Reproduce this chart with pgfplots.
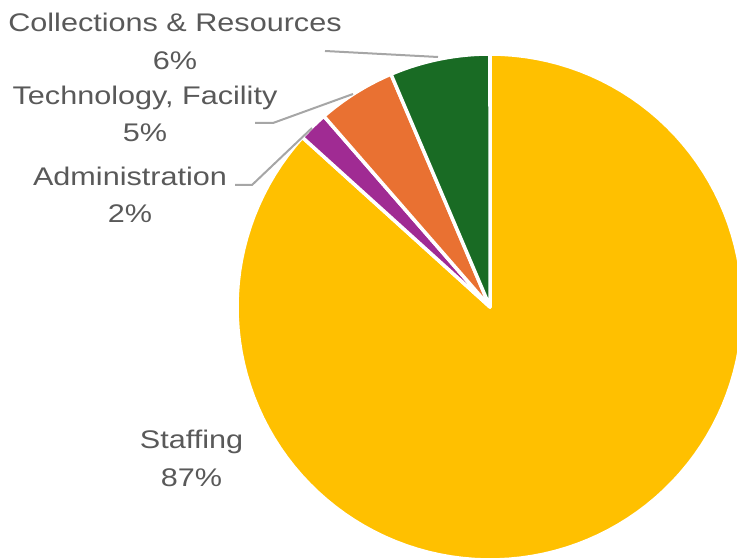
\documentclass[border=0pt]{standalone}
\usepackage{fontspec}
\usepackage{pgfplots}
\usepackage{pgfplotstable}
\pgfplotsset{compat=1.18}
\newfontfamily\lblfont[FakeStretch=1.2]{Liberation Sans}

\definecolor{staffcol}{HTML}{FFC000}
\definecolor{admincol}{HTML}{A02B93}
\definecolor{techcol}{HTML}{E97132}
\definecolor{collcol}{HTML}{196B24}
\definecolor{labelgray}{HTML}{595959}
\definecolor{leadergray}{HTML}{A6A6A6}

% share of the budget, in percent, clockwise from the top
\pgfplotstableread{
label value
Staffing 86.7
Administration 1.9
Technology 5.0
Collections 6.4
}\piedata

\begin{document}
\begin{tikzpicture}
\pgfplotstablegetelem{0}{value}\of\piedata \pgfmathsetmacro\vA{\pgfplotsretval}
\pgfplotstablegetelem{1}{value}\of\piedata \pgfmathsetmacro\vB{\pgfplotsretval}
\pgfplotstablegetelem{2}{value}\of\piedata \pgfmathsetmacro\vC{\pgfplotsretval}
\pgfmathsetmacro\aA{90}
\pgfmathsetmacro\aB{\aA-3.6*\vA}
\pgfmathsetmacro\aC{\aB-3.6*\vB}
\pgfmathsetmacro\aD{\aC-3.6*\vC}
\pgfmathsetmacro\aE{-270}
\tikzset{
  lbl/.style={anchor=base, text=labelgray, font=\lblfont\fontsize{25.5}{30}\selectfont, inner sep=0pt},
  lead/.style={draw=leadergray, line width=2pt},
}
\pgfplotsset{
  slice/.style={draw=white, line width=3.5pt, line join=round, data cs=polar, samples=120},
}
\begin{axis}[
    name=ax,
    width=737pt, height=559pt, scale only axis,
    xmin=-490, xmax=247, ymin=-252, ymax=307,
    hide axis, clip=true,
  ]
  \addplot[slice, fill=staffcol, domain=\aA:\aB] {253} -- (axis cs:0,0) -- cycle;
  \addplot[slice, fill=admincol, domain=\aB:\aC] {253} -- (axis cs:0,0) -- cycle;
  \addplot[slice, fill=techcol,  domain=\aC:\aD] {253} -- (axis cs:0,0) -- cycle;
  \addplot[slice, fill=collcol,  domain=\aD:\aE] {253} -- (axis cs:0,0) -- cycle;

  \draw[lead] (axis cs:-165,256) -- (axis cs:-52,250);
  \draw[lead] (axis cs:-235,184) -- (axis cs:-217,184) -- (axis cs:-137,213);
  \draw[lead] (axis cs:-255,122) -- (axis cs:-238,122) -- (axis cs:-178,179);

  \node[lbl] at (axis cs:-315,275) {Collections \& Resources};
  \node[lbl] at (axis cs:-315,237) {6\%};
  \node[lbl] at (axis cs:-345,202) {Technology, Facility};
  \node[lbl] at (axis cs:-345,165) {5\%};
  \node[lbl] at (axis cs:-360,121) {Administration};
  \node[lbl] at (axis cs:-360,84) {2\%};
  \node[lbl] at (axis cs:-298.5,-142) {Staffing};
  \node[lbl] at (axis cs:-298.5,-180) {87\%};
\end{axis}
\pgfresetboundingbox
\useasboundingbox (ax.south west) rectangle (ax.north east);
\end{tikzpicture}
\end{document}
